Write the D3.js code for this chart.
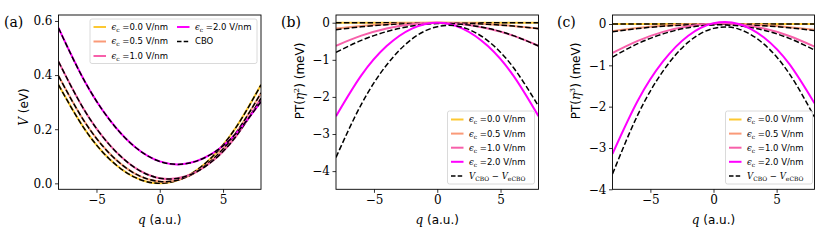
<!DOCTYPE html>
<html>
<head>
<meta charset="utf-8">
<script src="https://cdn.jsdelivr.net/npm/d3@7"></script>
<style>
  body { margin: 0; background: #fff; }
  text { fill: #000; }
</style>
</head>
<body>
<div id="chart"></div>
<script>
// q grid (a.u.) shared by every curve
var qGrid = [-8, -6, -4, -2, 0, 2, 4, 6, 8];
var fieldLabels = ["0.0", "0.5", "1.0", "2.0"];
var fieldColors = ["#fcc832", "#fa9a78", "#f760aa", "#ff00ff"];

// (a) potential V (eV); the CBO curves sit on top of these
var potE00 = [0.364, 0.205, 0.091, 0.023, 0.000, 0.023, 0.091, 0.205, 0.364];
var potE05 = [0.397, 0.232, 0.112, 0.037, 0.007, 0.021, 0.081, 0.185, 0.334];
var potE10 = [0.450, 0.274, 0.144, 0.059, 0.019, 0.025, 0.076, 0.172, 0.314];
var potE20 = [0.574, 0.383, 0.237, 0.136, 0.081, 0.072, 0.106, 0.183, 0.302];

// (b) PT(eta^2) in meV
var pt2E00 = [0, 0, 0, 0, 0, 0, 0, 0, 0];
var pt2E05 = [-0.155, -0.087, -0.039, -0.010, 0, -0.010, -0.039, -0.087, -0.155];
var pt2E10 = [-0.62, -0.349, -0.155, -0.039, 0, -0.039, -0.155, -0.349, -0.62];
var pt2E20 = [-2.52, -1.42, -0.63, -0.158, 0, -0.158, -0.63, -1.42, -2.52];

// (c) PT(eta^3) in meV
var pt3E00 = [0, 0, 0, 0, 0, 0, 0, 0, 0];
var pt3E05 = [-0.175, -0.099, -0.045, -0.011, 0.002, -0.005, -0.031, -0.076, -0.14];
var pt3E10 = [-0.70, -0.408, -0.19, -0.052, 0.007, -0.012, -0.111, -0.29, -0.547];
var pt3E20 = [-3.14, -1.855, -0.905, -0.283, 0.018, 0.002, -0.327, -0.967, -1.92];

// V_CBO - V_eCBO in meV (dashed, panels b and c)
var gapE00 = [0, 0, 0, 0, 0, 0, 0, 0, 0];
var gapE05 = [-0.19, -0.11, -0.054, -0.019, -0.005, -0.013, -0.042, -0.091, -0.16];
var gapE10 = [-0.80, -0.476, -0.239, -0.088, -0.023, -0.044, -0.152, -0.347, -0.628];
var gapE20 = [-3.63, -2.20, -1.14, -0.44, -0.106, -0.123, -0.488, -1.20, -2.25];

var xTicks = [-5, 0, 5];
var yTicksA = [0, 0.2, 0.4, 0.6];
var yTicksBC = [0, -1, -2, -3, -4];

var SERIF = "'DejaVu Serif', serif";
var SANS = "'DejaVu Sans', sans-serif";

var svg = d3.select("#chart").append("svg")
  .attr("width", 830).attr("height", 243);

function minus(s) { return String(s).replace("-", "\u2212"); }

function epsLabel(t, val) {
  t.append("tspan").attr("font-family", SERIF).attr("font-style", "italic").text("\u03f5");
  t.append("tspan").attr("font-family", SERIF).attr("font-size", 6).attr("dy", 2).text("c");
  t.append("tspan").attr("dy", -2).text(" =" + val + " V/nm");
}

function gapLabel(t) {
  t.append("tspan").attr("font-family", SERIF).attr("font-style", "italic").text("V");
  t.append("tspan").attr("font-family", SERIF).attr("font-size", 6).attr("dy", 2).text("CBO");
  t.append("tspan").attr("font-family", SERIF).attr("dy", -2).text(" \u2212 ");
  t.append("tspan").attr("font-family", SERIF).attr("font-style", "italic").text("V");
  t.append("tspan").attr("font-family", SERIF).attr("font-size", 6).attr("dy", 2).text("eCBO");
}

function panel(cfg) {
  var x = d3.scaleLinear().domain([-8, 8]).range([cfg.x0, cfg.x1]);
  var y = d3.scaleLinear().domain(cfg.ydom).range([189.3, 15]);
  var g = svg.append("g");

  var clipId = "clip-" + cfg.tag;
  g.append("clipPath").attr("id", clipId).append("rect")
    .attr("x", cfg.x0).attr("y", 15).attr("width", cfg.x1 - cfg.x0).attr("height", 174.3);

  var line = d3.line()
    .x(function(d, i) { return x(qGrid[i]); })
    .y(function(d) { return y(d); })
    .curve(d3.curveNatural);

  var plot = g.append("g").attr("clip-path", "url(#" + clipId + ")");
  cfg.solid.forEach(function(s, i) {
    plot.append("path").attr("d", line(s)).attr("fill", "none")
      .attr("stroke", fieldColors[i]).attr("stroke-width", 2);
    plot.append("path").attr("d", line(cfg.dashed[i])).attr("fill", "none")
      .attr("stroke", "#000").attr("stroke-width", 1.5).attr("stroke-dasharray", "5.5,2.4");
  });

  // axes
  var xa = g.append("g").attr("transform", "translate(0,189.3)")
    .call(d3.axisBottom(x).tickValues(xTicks).tickSize(3.5).tickPadding(3).tickFormat(minus));
  var ya = g.append("g").attr("transform", "translate(" + cfg.x0 + ",0)")
    .call(d3.axisLeft(y).tickValues(cfg.yticks).tickSize(3.5).tickPadding(2.5).tickFormat(cfg.yfmt));
  [xa, ya].forEach(function(a) {
    a.select(".domain").remove();
    a.selectAll("line").attr("stroke", "#000").attr("stroke-width", 0.8);
    a.selectAll("text").attr("font-family", SERIF).attr("font-size", 12);
  });
  g.append("rect").attr("x", cfg.x0).attr("y", 15)
    .attr("width", cfg.x1 - cfg.x0).attr("height", 174.3)
    .attr("fill", "none").attr("stroke", "#000").attr("stroke-width", 0.9);

  // x label
  var xl = g.append("text").attr("x", (cfg.x0 + cfg.x1) / 2).attr("y", 224)
    .attr("text-anchor", "middle").attr("font-family", SANS).attr("font-size", 12);
  xl.append("tspan").attr("font-family", SERIF).attr("font-style", "italic").text("q");
  xl.append("tspan").text(" (a.u.)");

  // y label
  var yl = g.append("text")
    .attr("transform", "translate(" + cfg.ylx + "," + cfg.yly + ") rotate(-90)")
    .attr("text-anchor", "middle").attr("dy", "0.35em")
    .attr("font-family", SANS).attr("font-size", 12);
  cfg.ylab(yl);

  // panel tag
  g.append("text").attr("x", cfg.tagx).attr("y", 27)
    .attr("font-family", SERIF).attr("font-size", 14).text("(" + cfg.tag + ")");

  // legend
  var L = cfg.legend;
  var lg = g.append("g");
  lg.append("rect").attr("x", L.x).attr("y", L.y).attr("width", L.w).attr("height", L.h)
    .attr("rx", 2).attr("fill", "#fff").attr("fill-opacity", 0.8)
    .attr("stroke", "#d0d0d0").attr("stroke-width", 0.8);
  L.items.forEach(function(it) {
    lg.append("line").attr("x1", it.hx).attr("x2", it.hx + 12.5)
      .attr("y1", it.y).attr("y2", it.y)
      .attr("stroke", it.color).attr("stroke-width", it.dashed ? 1.5 : 2)
      .attr("stroke-dasharray", it.dashed ? "4.5,2.2" : null);
    var t = lg.append("text").attr("x", it.hx + 18).attr("y", it.y).attr("dy", "0.35em")
      .attr("font-family", SANS).attr("font-size", 8.5);
    it.label(t);
  });
}

function legendBC(bx) {
  var items = fieldLabels.map(function(f, i) {
    return { hx: bx + 3.5, y: 119.5 + i * 14.1, color: fieldColors[i],
             label: function(t) { epsLabel(t, f); } };
  });
  items.push({ hx: bx + 3.5, y: 119.5 + 4 * 14.1, color: "#000", dashed: true, label: gapLabel });
  return { x: bx, y: 111, w: 87, h: 73, items: items };
}

var potentials = [potE00, potE05, potE10, potE20];
var legendA = fieldLabels.slice(0, 3).map(function(f, i) {
  return { hx: 93.5, y: 27 + i * 14.5, color: fieldColors[i],
           label: function(t) { epsLabel(t, f); } };
});
legendA.push({ hx: 177, y: 27, color: fieldColors[3], label: function(t) { epsLabel(t, fieldLabels[3]); } });
legendA.push({ hx: 177, y: 41.5, color: "#000", dashed: true, label: function(t) { t.text("CBO"); } });

panel({
  tag: "a", x0: 58.5, x1: 261, ydom: [-0.022, 0.622], yticks: yTicksA,
  yfmt: d3.format(".1f"), solid: potentials, dashed: potentials,
  ylx: 23.5, yly: 107, tagx: 4,
  ylab: function(t) {
    t.append("tspan").attr("font-family", SERIF).attr("font-style", "italic").text("V");
    t.append("tspan").text(" (eV)");
  },
  legend: { x: 90, y: 19, w: 167, h: 44.5, items: legendA }
});

function ptLabel(power) {
  return function(t) {
    t.append("tspan").text("PT(");
    t.append("tspan").attr("font-family", SERIF).attr("font-style", "italic").text("\u03b7");
    t.append("tspan").attr("font-family", SERIF).attr("font-size", 8).attr("dy", -5).text(power);
    t.append("tspan").attr("dy", 5).text(") (meV)");
  };
}

panel({
  tag: "b", x0: 336, x1: 538.5, ydom: [-4.49, 0.208], yticks: yTicksBC,
  yfmt: minus, solid: [pt2E00, pt2E05, pt2E10, pt2E20],
  dashed: [gapE00, gapE05, gapE10, gapE20],
  ylx: 300, yly: 81, tagx: 281, ylab: ptLabel("2"),
  legend: legendBC(447.5)
});

panel({
  tag: "c", x0: 612.5, x1: 814.5, ydom: [-4, 0.218], yticks: yTicksBC,
  yfmt: minus, solid: [pt3E00, pt3E05, pt3E10, pt3E20],
  dashed: [gapE00, gapE05, gapE10, gapE20],
  ylx: 576, yly: 81, tagx: 557, ylab: ptLabel("3"),
  legend: legendBC(725.5)
});
</script>
</body>
</html>
